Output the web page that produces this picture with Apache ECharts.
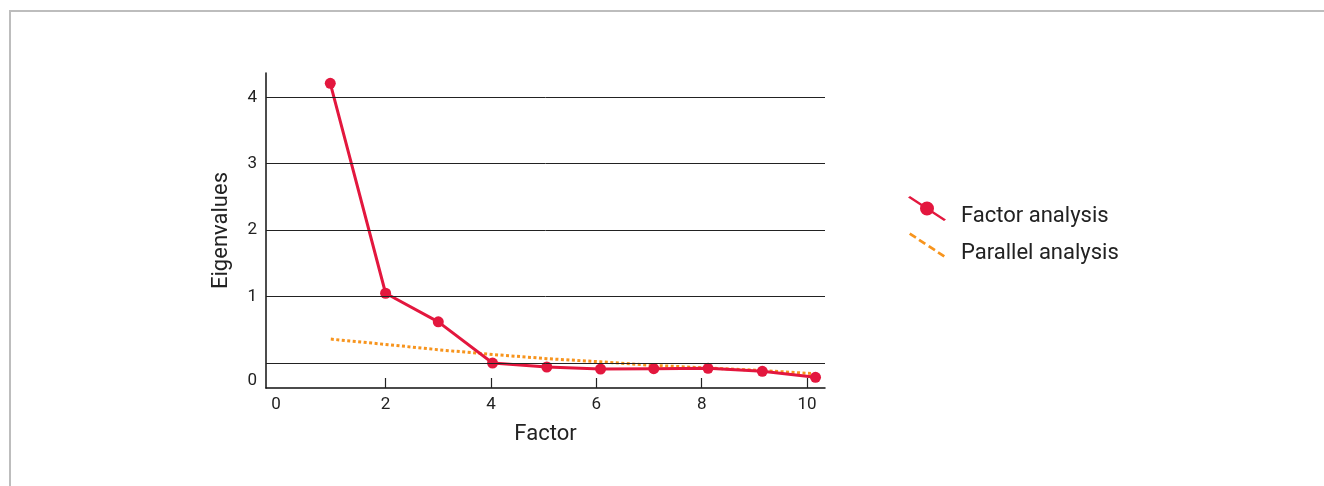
<!DOCTYPE html>
<html>
<head>
<meta charset="utf-8">
<script src="https://cdn.jsdelivr.net/npm/echarts@6/dist/echarts.min.js"></script>
<style type="text/css">
	body{
		margin: 0;
		background: #fff;
	}
	#frame{
		position: absolute;
		left: 9px;
		top: 10px;
		width: 1400px;
		height: 600px;
		border-left: 2px solid #bdbdbd;
		border-top: 2px solid #bdbdbd;
	}
	#scree_chart{
		position: absolute;
		left: 0;
		top: 0;
		width: 1324px;
		height: 486px;
	}
</style>
</head>
<body>
<div id="frame"></div>
<div id="scree_chart"></div>
<script>
// 读图得到的数值
var factor_x = [0.95, 2.0, 3.0, 4.03, 5.06, 6.08, 7.09, 8.12, 9.15, 10.16];
var factor_y = [4.21, 1.05, 0.62, 0.0, -0.06, -0.09, -0.085, -0.08, -0.125, -0.215];
var parallel_x = [0.96, 2.0, 3.0, 4.03, 5.06, 6.08, 7.09, 8.12, 9.15, 10.12];
var parallel_y = [0.36, 0.28, 0.20, 0.128, 0.066, 0.018, -0.036, -0.075, -0.113, -0.16];
var x_tick_values = [2, 4, 6, 8, 10];
var x_label_values = [-0.08, 2, 4, 6, 8, 10];
var y_grid_values = [0, 1, 2, 3, 4];
var y_label_values = [-0.266, 1, 2, 3, 4];

var red = '#e3173e';
var orange = '#f7941d';
var font = 'Roboto';

function pairs(xs, ys){
	var out = [];
	for (var i = 0; i < xs.length; i++) {
		out.push([xs[i], ys[i]]);
	}
	return out;
}

//负值位置的刻度标签显示为 0
function tick_text(v){
	return v < 0 ? '0' : String(Math.round(v));
}

// 图例图标：斜线 + 圆点 / 斜虚线
var factor_icon = 'path://M0,1.5 L2,0 L38,23.5 L36,25 Z M26,12.5 A7,7 0 1,1 12,12.5 A7,7 0 1,1 26,12.5 Z';
var dash_icon = (function(){
	var segs = [[0, 0.18], [0.27, 0.45], [0.55, 0.73], [0.82, 1.0]];
	var px = -0.82, py = 1.25;
	var d = 'path://';
	segs.forEach(function(s){
		var sx = 38 * s[0], sy = 25 * s[0], ex = 38 * s[1], ey = 25 * s[1];
		d += 'M' + (sx + px) + ',' + (sy + py) + ' L' + (sx - px) + ',' + (sy - py) +
			' L' + (ex - px) + ',' + (ey - py) + ' L' + (ex + px) + ',' + (ey + py) + ' Z ';
	});
	return d;
})();

var chart = echarts.init(document.getElementById('scree_chart'));
var option = {
	animation: false,
	textStyle: {fontFamily: font},
	grid: {
		left: 266,
		top: 73,
		width: 559,
		height: 315
	},
	legend: {
		orient: 'vertical',
		left: 908,
		top: 195,
		padding: 0,
		itemWidth: 38,
		itemHeight: 25,
		itemGap: 4,
		selectedMode: false,
		formatter: '{gap| }\n{t|{name}}',
		textStyle: {
			fontFamily: font,
			fontSize: 22,
			color: '#222',
			padding: [0, 0, 0, 10],
			rich: {
				gap: {fontSize: 1, lineHeight: 16},
				t: {fontFamily: font, fontSize: 22, lineHeight: 26, color: '#222'}
			}
		},
		data: [
			{name: 'Factor analysis', icon: factor_icon, itemStyle: {color: red}},
			{name: 'Parallel analysis', icon: dash_icon, itemStyle: {color: orange}}
		]
	},
	xAxis: {
		type: 'value',
		min: -0.27,
		max: 10.34,
		name: 'Factor',
		nameLocation: 'middle',
		nameGap: 35,
		nameTextStyle: {fontFamily: font, fontSize: 22, color: '#222'},
		axisLine: {onZero: false, lineStyle: {color: '#111', width: 1.5}},
		axisTick: {
			show: true,
			inside: true,
			length: 10,
			customValues: x_tick_values,
			lineStyle: {color: '#222', width: 1.2}
		},
		axisLabel: {
			customValues: x_label_values,
			margin: 8,
			fontFamily: font,
			fontSize: 17,
			color: '#222',
			formatter: tick_text
		},
		splitLine: {show: false}
	},
	yAxis: {
		type: 'value',
		min: -0.376,
		max: 4.365,
		name: 'Eigenvalues',
		nameLocation: 'middle',
		nameGap: 34,
		nameTextStyle: {fontFamily: font, fontSize: 22, color: '#222'},
		axisLine: {show: true, onZero: false, lineStyle: {color: '#111', width: 1.5}},
		axisTick: {show: false},
		axisLabel: {
			customValues: y_label_values,
			margin: 9,
			fontFamily: font,
			fontSize: 17,
			color: '#222',
			formatter: tick_text
		},
		splitLine: {show: false}
	},
	series: [
		{
			// 网格横线
			name: 'grid',
			type: 'line',
			data: [],
			z: 1,
			silent: true,
			markLine: {
				silent: true,
				symbol: 'none',
				label: {show: false},
				lineStyle: {color: '#222', width: 1, type: 'solid'},
				data: y_grid_values.map(function(v){ return {yAxis: v}; })
			}
		},
		{
			name: 'Parallel analysis',
			type: 'line',
			z: 2,
			symbol: 'none',
			lineStyle: {color: orange, width: 3, type: [3, 2.5], cap: 'butt'},
			itemStyle: {color: orange},
			data: pairs(parallel_x, parallel_y)
		},
		{
			name: 'Factor analysis',
			type: 'line',
			z: 3,
			symbol: 'circle',
			symbolSize: 11,
			lineStyle: {color: red, width: 3},
			itemStyle: {color: red},
			data: pairs(factor_x, factor_y)
		}
	]
};
chart.setOption(option);
</script>
</body>
</html>
